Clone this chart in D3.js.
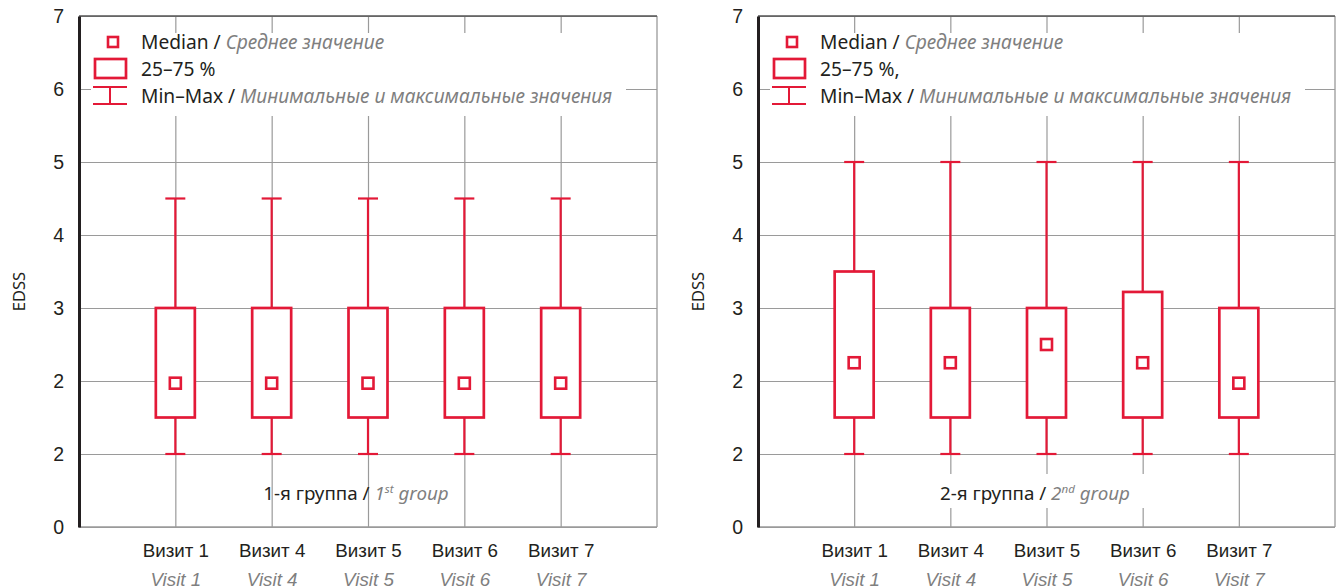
<!DOCTYPE html>
<html>
<head>
<meta charset="utf-8">
<script src="https://cdn.jsdelivr.net/npm/d3@7"></script>
<style>
  html, body { margin: 0; padding: 0; background: #fff; }
  svg { display: block; font-family: "Noto Sans", "Open Sans", sans-serif; }
</style>
</head>
<body>
<svg id="chart" width="1336" height="588"></svg>
<script>
// ---------- data ----------
const categories = ["Визит 1", "Визит 4", "Визит 5", "Визит 6", "Визит 7"];
const categoriesEn = ["Visit 1", "Visit 4", "Visit 5", "Visit 6", "Visit 7"];
const yTickValues = [0, 1, 2, 3, 4, 5, 6, 7];
const yTickLabels = ["0", "2", "2", "3", "4", "5", "6", "7"];

const g1Min = [1, 1, 1, 1, 1];
const g1Q1 = [1.5, 1.5, 1.5, 1.5, 1.5];
const g1Median = [1.97, 1.97, 1.97, 1.97, 1.97];
const g1Q3 = [3, 3, 3, 3, 3];
const g1Max = [4.5, 4.5, 4.5, 4.5, 4.5];

const g2Min = [1, 1, 1, 1, 1];
const g2Q1 = [1.5, 1.5, 1.5, 1.5, 1.5];
const g2Median = [2.25, 2.25, 2.5, 2.25, 1.97];
const g2Q3 = [3.5, 3, 3, 3.22, 3];
const g2Max = [5, 5, 5, 5, 5];

const groupLabelsRu = ["1-я группа / ", "2-я группа / "];
const groupNum = ["1", "2"];
const groupSup = ["st", "nd"];
const legendBoxLabels = ["25–75 %", "25–75 %,"];

// ---------- style ----------
const RED = "#e31937";
const DARK = "#231f20";
const GREY_TXT = "#7f7f7f";
const GRID = "#9a9a9a";
const FS = 18.8;
const LFS = 19.2;

const svg = d3.select("#chart");

const panels = [
  { x0: 79, x1: 657, min: g1Min, q1: g1Q1, med: g1Median, q3: g1Q3, max: g1Max, gi: 0, labelBg: false },
  { x0: 758, x1: 1335, min: g2Min, q1: g2Q1, med: g2Median, q3: g2Q3, max: g2Max, gi: 1, labelBg: true }
];
const plotTop = 16, plotBottom = 527;

panels.forEach(p => {
  const g = svg.append("g");
  const x = d3.scalePoint().domain(categories).range([p.x0, p.x1]).padding(1);
  const y = d3.scaleLinear().domain([0, 7]).range([plotBottom, plotTop]);
  const w = p.x1 - p.x0;

  // horizontal grid
  g.append("g")
    .attr("transform", `translate(${p.x0},0)`)
    .call(d3.axisLeft(y).tickValues(yTickValues).tickSize(-w).tickFormat(""))
    .call(s => s.select(".domain").remove())
    .call(s => s.selectAll("line").attr("stroke", GRID).attr("stroke-width", 1.2));

  // vertical grid
  g.append("g")
    .attr("transform", `translate(0,${plotBottom})`)
    .call(d3.axisBottom(x).tickSize(-(plotBottom - plotTop)).tickFormat(""))
    .call(s => s.select(".domain").remove())
    .call(s => s.selectAll("line").attr("stroke", GRID).attr("stroke-width", 1.2));

  // frame: right border, bottom, top
  g.append("line").attr("x1", p.x1).attr("x2", p.x1).attr("y1", plotTop).attr("y2", plotBottom)
    .attr("stroke", GRID).attr("stroke-width", 1.3);
  g.append("line").attr("x1", p.x0).attr("x2", p.x1).attr("y1", plotBottom).attr("y2", plotBottom)
    .attr("stroke", GRID).attr("stroke-width", 1.5);
  g.append("line").attr("x1", p.x0).attr("x2", p.x1).attr("y1", plotTop).attr("y2", plotTop)
    .attr("stroke", "#555").attr("stroke-width", 1.6);

  // y axis
  const ya = g.append("g")
    .attr("transform", `translate(${p.x0},0)`)
    .call(d3.axisLeft(y).tickValues(yTickValues).tickSize(0).tickPadding(15)
      .tickFormat((d, i) => yTickLabels[i]));
  ya.select(".domain").attr("stroke", DARK).attr("stroke-width", 3);
  ya.selectAll("text").attr("font-size", 19.5).attr("fill", DARK).attr("font-family", null);

  // EDSS label
  g.append("text")
    .attr("transform", `translate(${p.x0 - 54},${(plotTop + plotBottom) / 2 + 20}) rotate(-90)`)
    .attr("text-anchor", "middle")
    .attr("font-size", 16.5).attr("fill", DARK)
    .text("EDSS");

  // x labels
  const xa = g.append("g").attr("transform", `translate(0,${plotBottom})`)
    .call(d3.axisBottom(x).tickSize(0).tickFormat(""));
  xa.select(".domain").remove();
  xa.selectAll(".tick").each(function (d, i) {
    const t = d3.select(this);
    t.append("text").attr("y", 30).attr("text-anchor", "middle")
      .attr("font-size", FS).attr("fill", DARK).text(categories[i]);
    t.append("text").attr("y", 58.5).attr("text-anchor", "middle")
      .attr("font-size", FS).attr("font-style", "italic").attr("fill", GREY_TXT)
      .text(categoriesEn[i]);
  });

  // group label
  if (p.labelBg) {
    g.append("rect").attr("x", p.x0 + 180).attr("y", 474).attr("width", 212).attr("height", 34).attr("fill", "#fff");
  }
  const gl = g.append("text")
    .attr("x", p.x0 + 277).attr("y", 500)
    .attr("text-anchor", "middle").attr("font-size", FS).attr("fill", DARK);
  gl.append("tspan").text(groupLabelsRu[p.gi]);
  gl.append("tspan").attr("font-style", "italic").attr("fill", GREY_TXT).text(groupNum[p.gi]);
  gl.append("tspan").attr("font-style", "italic").attr("fill", GREY_TXT)
    .attr("font-size", 11.5).attr("dy", -7).text(groupSup[p.gi]);
  gl.append("tspan").attr("font-style", "italic").attr("fill", GREY_TXT)
    .attr("dy", 7).text(" group");

  // boxes
  const bw = 39, cw = 20, ms = 11;
  const data = categories.map((c, i) => ({ c, min: p.min[i], q1: p.q1[i], med: p.med[i], q3: p.q3[i], max: p.max[i] }));
  const bg = g.append("g").selectAll("g").data(data).join("g")
    .attr("transform", d => `translate(${x(d.c)},0)`);
  bg.append("line").attr("y1", d => y(d.max)).attr("y2", d => y(d.q3))
    .attr("stroke", RED).attr("stroke-width", 2.2);
  bg.append("line").attr("y1", d => y(d.q1)).attr("y2", d => y(d.min))
    .attr("stroke", RED).attr("stroke-width", 2.2);
  bg.append("line").attr("x1", -cw / 2).attr("x2", cw / 2).attr("y1", d => y(d.max)).attr("y2", d => y(d.max))
    .attr("stroke", RED).attr("stroke-width", 2.2);
  bg.append("line").attr("x1", -cw / 2).attr("x2", cw / 2).attr("y1", d => y(d.min)).attr("y2", d => y(d.min))
    .attr("stroke", RED).attr("stroke-width", 2.2);
  bg.append("rect").attr("x", -bw / 2).attr("width", bw)
    .attr("y", d => y(Math.max(d.q1, d.q3))).attr("height", d => Math.abs(y(d.q1) - y(d.q3)))
    .attr("fill", "#fff").attr("stroke", RED).attr("stroke-width", 2.7);
  bg.append("rect").attr("x", -ms / 2).attr("width", ms)
    .attr("y", d => y(d.med) - ms / 2).attr("height", ms)
    .attr("fill", "#fff").attr("stroke", RED).attr("stroke-width", 2.6);

  // legend
  const lg = g.append("g").attr("transform", `translate(${p.x0},0)`);
  lg.append("rect").attr("x", 12).attr("y", 33).attr("width", 535).attr("height", 83).attr("fill", "#fff");
  lg.append("rect").attr("x", 29).attr("y", 37).attr("width", 10).attr("height", 10)
    .attr("fill", "#fff").attr("stroke", RED).attr("stroke-width", 2.6);
  lg.append("rect").attr("x", 16).attr("y", 59).attr("width", 31).attr("height", 19)
    .attr("fill", "#fff").attr("stroke", RED).attr("stroke-width", 2.7);
  lg.append("line").attr("x1", 14).attr("x2", 48).attr("y1", 87).attr("y2", 87).attr("stroke", RED).attr("stroke-width", 2);
  lg.append("line").attr("x1", 14).attr("x2", 48).attr("y1", 104).attr("y2", 104).attr("stroke", RED).attr("stroke-width", 2);
  lg.append("line").attr("x1", 31).attr("x2", 31).attr("y1", 87).attr("y2", 104).attr("stroke", RED).attr("stroke-width", 2);

  const t1 = lg.append("text").attr("x", 62).attr("y", 49).attr("font-size", LFS).attr("fill", DARK);
  t1.append("tspan").text("Median / ");
  t1.append("tspan").attr("font-style", "italic").attr("fill", GREY_TXT).text("Среднее значение");
  lg.append("text").attr("x", 62).attr("y", 76).attr("font-size", LFS).attr("fill", DARK).text(legendBoxLabels[p.gi]);
  const t3 = lg.append("text").attr("x", 62).attr("y", 102.5).attr("font-size", LFS).attr("fill", DARK);
  t3.append("tspan").text("Min–Max / ");
  t3.append("tspan").attr("font-style", "italic").attr("fill", GREY_TXT).text("Минимальные и максимальные значения");
});
</script>
</body>
</html>
